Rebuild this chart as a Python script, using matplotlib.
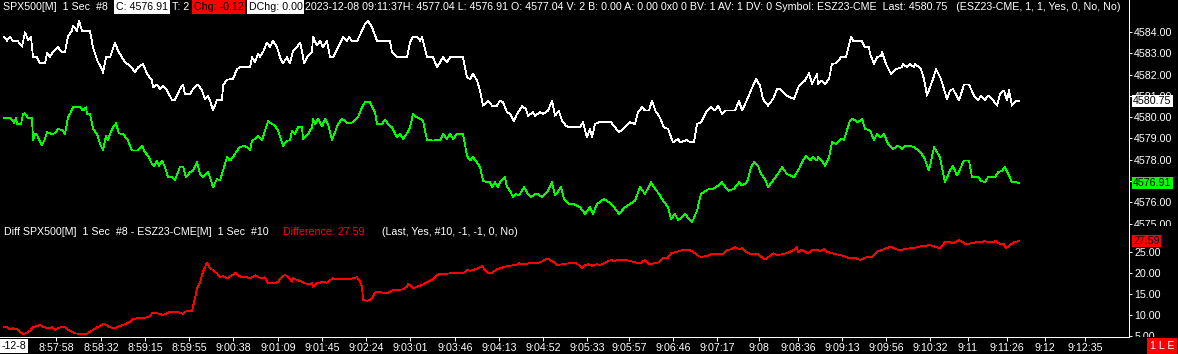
import matplotlib
matplotlib.use("Agg")
import matplotlib.pyplot as plt
from matplotlib.transforms import Bbox

plt.rcParams['font.family'] = ['Liberation Sans', 'DejaVu Sans']

# ---- data (bar index, price) ----
white_bar = [4, 7, 10, 13, 18, 22, 25, 28, 31, 33, 37, 40, 45, 47, 50, 53, 58, 62, 65, 68,
             72, 73, 77, 79, 82, 90, 93, 98, 102, 103, 106, 110, 115, 118, 122, 125, 130, 135, 138, 143,
             147, 152, 153, 157, 160, 163, 167, 172, 175, 180, 183, 185, 190, 193, 198, 202, 205, 208, 210, 213,
             217, 222, 223, 227, 233, 237, 240, 250, 252, 255, 258, 260, 263, 267, 270, 273, 277, 280, 283, 287,
             290, 293, 297, 300, 302, 304, 308, 312, 313, 317, 320, 323, 327, 330, 333, 338, 343, 347, 349, 352,
             357, 362, 365, 368, 372, 377, 390, 392, 397, 407, 410, 413, 417, 420, 422, 427, 433, 437, 440, 443,
             447, 450, 463, 467, 470, 473, 477, 480, 483, 488, 492, 497, 500,
             503, 507, 510, 514, 517, 522, 526, 528, 533, 535, 540, 543, 548, 552, 555, 559, 562, 566, 569, 580,
             583, 587, 590, 592, 595, 599, 611, 619, 625, 630, 635, 638, 642, 645, 649, 652, 656, 659, 664, 668,
             673, 678, 680, 687, 690, 694, 697, 701, 706, 711, 715, 718, 722, 725, 735, 739, 742, 747, 753, 756,
             760, 763, 768, 773, 777, 780, 787, 794, 799, 805, 809, 812, 817, 818, 822, 825, 829, 832, 836, 841,
             846, 851, 853, 862, 865, 869, 870, 874, 877, 881, 882, 886, 891, 896, 902, 903, 907, 910, 914, 915,
             921, 924, 927, 933, 936, 941, 947, 950, 953, 959, 964, 969, 974, 978, 981, 985, 988, 993, 997, 1000,
             1004, 1007, 1009, 1012, 1016, 1019]
white_px = [4583.78, 4583.59, 4583.78, 4583.56, 4583.56, 4583.31, 4583.98, 4583.62, 4583.78, 4582.81,
            4582.81, 4582.53, 4582.53, 4583.00, 4582.84, 4583.05, 4583.28, 4583.05, 4583.05, 4583.78,
            4584.06, 4584.30, 4584.06, 4584.53, 4584.06, 4584.03, 4583.28, 4582.58, 4582.26, 4582.06,
            4582.81, 4582.81, 4583.51, 4583.12, 4582.81, 4582.58, 4582.42, 4582.11, 4582.34, 4582.50,
            4582.03, 4581.72, 4581.40, 4581.53, 4581.32, 4581.48, 4581.25, 4580.81, 4580.81, 4581.32,
            4581.53, 4581.09, 4581.06, 4581.32, 4581.53, 4581.25, 4580.85, 4581.01, 4580.78, 4580.31,
            4580.81, 4580.81, 4581.48, 4581.76, 4581.79, 4582.26, 4582.34, 4582.34, 4582.81, 4582.58,
            4582.97, 4582.84, 4583.05, 4583.51, 4583.28, 4583.59, 4583.28, 4582.81, 4582.53, 4582.81,
            4582.53, 4583.12, 4583.28, 4583.51, 4583.12, 4582.53, 4582.89, 4583.05, 4583.78, 4583.36,
            4583.59, 4583.28, 4583.59, 4582.81, 4582.81, 4583.28, 4583.75, 4583.56, 4583.78, 4583.56,
            4583.56, 4584.06, 4584.38, 4584.53, 4584.22, 4583.59, 4583.56, 4583.05, 4582.81, 4582.81,
            4583.51, 4583.78, 4583.78, 4583.59, 4583.75, 4582.81, 4582.81, 4582.34, 4582.58, 4582.81,
            4582.58, 4582.81, 4582.81, 4581.87, 4581.79, 4582.03, 4581.72, 4581.25, 4580.54, 4580.78,
            4580.54, 4580.54, 4580.78,
            4580.70, 4580.23, 4580.15, 4579.81, 4580.15, 4580.51, 4580.38, 4580.07, 4580.23, 4580.07,
            4580.23, 4580.15, 4580.31, 4580.78, 4580.07, 4580.28, 4579.84, 4579.60, 4579.52, 4579.52,
            4579.76, 4579.05, 4579.45, 4579.05, 4579.68, 4579.76, 4579.76, 4579.29, 4579.52, 4579.76,
            4579.68, 4580.23, 4580.46, 4580.31, 4580.31, 4580.78, 4580.23, 4580.07, 4579.52, 4579.45,
            4578.82, 4578.98, 4578.82, 4578.93, 4578.82, 4578.82, 4579.68, 4579.76, 4580.23, 4580.46,
            4580.31, 4580.54, 4580.15, 4580.31, 4580.31, 4580.78, 4580.31, 4580.81, 4581.48, 4581.79,
            4581.48, 4580.85, 4580.54, 4580.85, 4581.32, 4581.32, 4581.01, 4580.85, 4581.48, 4581.72,
            4582.06, 4581.56, 4582.03, 4581.56, 4581.72, 4581.56, 4581.79, 4582.50, 4582.53, 4582.81,
            4582.81, 4583.78, 4583.59, 4583.56, 4583.28, 4583.28, 4582.97, 4582.50, 4582.81, 4582.89,
            4583.05, 4582.50, 4582.03, 4582.26, 4582.34, 4582.50, 4582.34, 4582.50, 4582.34, 4582.50,
            4582.26, 4581.79, 4581.01, 4581.79, 4582.26, 4581.79, 4580.85, 4581.25, 4581.32, 4580.78,
            4581.53, 4581.53, 4581.01, 4580.78, 4581.01, 4580.81, 4581.01, 4580.81, 4580.54, 4581.09,
            4581.25, 4580.78, 4581.28, 4580.54, 4580.78, 4580.75]

green_bar = [4, 10, 13, 14, 16, 17, 21, 23, 25, 28, 32, 33, 35, 37, 39, 42, 45, 47, 52, 55,
             58, 62, 65, 68, 70, 73, 80, 83, 86, 87, 90, 93, 97, 100, 103, 106, 108, 110, 113, 116,
             119, 123, 128, 132, 138, 142, 145, 148, 152, 154, 157, 159, 162, 165, 168, 172, 175, 178, 180, 183,
             186, 190, 193, 197, 200, 203, 208, 210, 213, 217, 220, 223, 227, 230, 233, 237, 240, 245, 250, 252,
             255, 258, 262, 265, 268, 272, 275, 278, 283, 287, 290, 292, 295, 298, 302, 303, 308, 312, 313, 315,
             318, 322, 325, 328, 332, 335, 338, 342, 348, 353, 358, 362, 365, 370, 375, 377, 382, 385, 388, 392,
             397, 400, 403, 407, 410, 413, 417, 420, 423, 427, 433, 437, 440, 443, 447, 450, 453, 457, 463, 467,
             470, 473, 477, 480, 483, 487, 490, 492, 495, 498,
             500, 505, 507, 510, 513, 516, 519, 524, 528, 531, 535, 538, 542, 545, 548, 552, 555, 561, 564, 569,
             574, 580, 585, 590, 593, 597, 604, 609, 614, 619, 625, 630, 635, 640, 645, 651, 654, 659, 663, 668,
             671, 675, 678, 682, 685, 689, 692, 697, 701, 706, 709, 713, 716, 722, 728, 734, 739, 742, 747, 751,
             754, 758, 761, 765, 768, 773, 779, 782, 787, 794, 799, 803, 806, 810, 813, 817, 818, 822, 825, 829,
             832, 836, 841, 844, 850, 853, 858, 862, 865, 870, 874, 877, 881, 884, 888, 893, 898, 902, 905, 910,
             914, 919, 924, 929, 934, 940, 945, 950, 953, 957, 964, 969, 972, 978, 981, 985, 988, 995, 998, 1002,
             1005, 1009, 1012, 1016, 1019]
green_px = [4579.95, 4579.95, 4579.84, 4579.71, 4579.95, 4579.68, 4579.68, 4580.15, 4580.18, 4579.95,
            4579.95, 4578.93, 4579.21, 4579.18, 4578.93, 4578.69, 4578.98, 4579.29, 4579.21, 4579.24,
            4579.45, 4579.40, 4579.21, 4579.99, 4580.15, 4580.46, 4580.46, 4580.31, 4580.46, 4580.15,
            4580.15, 4579.45, 4579.21, 4578.74, 4578.46, 4579.13, 4578.90, 4579.21, 4579.52, 4579.71,
            4579.24, 4579.21, 4578.90, 4578.43, 4578.43, 4578.66, 4578.35, 4578.19, 4577.80, 4577.68,
            4577.96, 4577.72, 4577.96, 4577.65, 4577.18, 4577.18, 4577.05, 4577.41, 4577.68, 4577.68,
            4577.18, 4577.41, 4577.49, 4577.88, 4577.33, 4577.18, 4577.41, 4577.18, 4576.71, 4577.10,
            4577.02, 4577.49, 4578.12, 4577.96, 4578.12, 4578.43, 4578.59, 4578.66, 4578.46, 4578.90,
            4578.98, 4579.13, 4578.90, 4579.37, 4579.81, 4579.68, 4579.60, 4579.37, 4578.66, 4578.90,
            4578.90, 4579.37, 4579.21, 4579.52, 4579.52, 4578.98, 4579.21, 4579.52, 4579.92, 4579.68,
            4579.92, 4579.56, 4579.92, 4579.68, 4578.93, 4579.29, 4579.68, 4579.92, 4579.71, 4579.76,
            4579.99, 4580.46, 4580.70, 4580.70, 4580.23, 4579.68, 4579.68, 4579.87, 4579.68, 4579.52,
            4579.05, 4579.21, 4578.98, 4579.24, 4579.52, 4580.15, 4579.99, 4579.92, 4579.84, 4578.93,
            4578.90, 4578.93, 4578.90, 4579.21, 4578.98, 4579.21, 4578.98, 4579.21, 4579.21, 4578.19,
            4577.96, 4578.12, 4577.88, 4577.65, 4577.02, 4576.94, 4576.94, 4576.71, 4576.94, 4576.71,
            4576.94, 4577.18, 4576.71, 4576.55, 4576.24, 4576.39, 4576.32, 4576.71, 4576.39, 4576.24,
            4576.39, 4576.39, 4576.24, 4576.39, 4576.55, 4576.94, 4576.32, 4576.71, 4576.16, 4575.92,
            4575.92, 4575.77, 4575.46, 4575.77, 4575.46, 4575.92, 4576.16, 4576.00, 4575.77, 4575.46,
            4575.77, 4575.92, 4576.08, 4576.71, 4576.39, 4576.94, 4576.71, 4576.39, 4576.08, 4575.77,
            4575.22, 4575.46, 4575.17, 4575.30, 4575.46, 4575.22, 4575.06, 4575.61, 4576.39, 4576.55,
            4576.63, 4576.63, 4576.71, 4576.94, 4576.55, 4576.63, 4576.94, 4576.79, 4576.94, 4577.65,
            4577.88, 4577.72, 4577.33, 4577.10, 4576.71, 4577.02, 4577.41, 4577.65, 4577.33, 4577.18,
            4577.57, 4577.96, 4578.19, 4577.96, 4578.12, 4577.96, 4578.12, 4577.96, 4577.72, 4578.12,
            4578.82, 4578.74, 4578.98, 4578.93, 4579.84, 4579.92, 4579.76, 4579.92, 4579.45, 4579.37,
            4578.93, 4579.21, 4579.05, 4579.21, 4578.74, 4578.51, 4578.66, 4578.51, 4578.66, 4578.66,
            4578.59, 4578.43, 4578.12, 4577.49, 4578.59, 4578.12, 4576.94, 4577.49, 4577.72, 4577.26,
            4577.96, 4577.96, 4577.18, 4577.18, 4577.02, 4576.94, 4577.18, 4577.18, 4577.41, 4577.49,
            4577.65, 4577.26, 4576.94, 4576.94, 4576.91]

diff_bar = [4, 7, 10, 13, 17, 20, 23, 27, 30, 33, 37, 40, 43, 48, 52, 55, 58, 62, 65, 68,
            72, 75, 80, 87, 90, 93, 97, 100, 103, 107, 110, 115, 118, 123, 127, 130, 133, 137, 140, 147,
            150, 152, 157, 160, 163, 167, 170, 175, 180, 183, 187, 192, 193, 195, 197, 200, 203, 206, 207, 210,
            213, 217, 220, 223, 227, 230, 233, 236, 238, 242, 247, 250, 253, 256, 258, 262, 265, 268, 272, 275,
            278, 282, 285, 288, 292, 293, 297, 302, 305, 308, 312, 313, 317, 320, 323, 327, 330, 333, 337, 343,
            348, 353, 357, 360, 362, 363, 367, 370, 372, 375, 378, 383, 387, 390, 393, 398, 403, 407, 408, 412,
            413, 417, 422, 425, 428, 433, 437, 440, 445, 450, 457, 463, 467, 470, 473, 478, 482, 485, 488, 492,
            497, 500,
            505, 510, 516, 519, 524, 529, 535, 540, 543, 547, 550, 554, 557, 562, 569, 576, 580, 582, 585, 588,
            592, 597, 600, 606, 611, 614, 619, 625, 630, 635, 640, 645, 649, 654, 659, 663, 668, 671, 677, 682,
            689, 692, 697, 701, 708, 711, 722, 727, 732, 735, 739, 742, 746, 751, 758, 761, 765, 770, 773, 777,
            782, 787, 792, 796, 797, 798, 801, 805, 808, 812, 817, 820, 824, 827, 832, 837, 843, 848, 855, 860,
            865, 872, 877, 881, 886, 891, 895, 900, 905, 910, 915, 921, 926, 929, 934, 940, 945, 950, 953, 959,
            962, 966, 971, 976, 981, 985, 988, 992, 996, 1000, 1004, 1006, 1009, 1014, 1019]
diff_val = [7.06, 7.06, 6.59, 6.83, 6.59, 6.03, 5.40, 5.79, 6.27, 7.06,
            7.38, 7.62, 7.22, 6.83, 7.06, 6.43, 6.83, 7.22, 7.06, 6.43,
            6.03, 5.63, 5.48, 5.48, 6.03, 6.43, 7.06, 7.38, 7.86, 7.62,
            7.06, 6.83, 7.22, 7.62, 8.02, 8.41, 8.97, 9.21, 9.21, 9.44,
            9.76, 10.40, 10.40, 10.24, 10.00, 10.40, 10.79, 10.79, 10.56, 10.24,
            11.03, 11.03, 11.98, 13.97, 16.35, 17.70, 20.32, 21.90, 22.46, 21.11,
            20.71, 19.92, 18.97, 19.29, 18.73, 19.29, 19.52, 20.08, 19.52, 18.97,
            18.97, 18.73, 19.13, 19.44, 18.97, 18.73, 18.97, 17.54, 17.70, 17.54,
            17.94, 19.13, 19.52, 19.13, 17.94, 18.73, 18.33, 17.94, 17.54, 17.38,
            17.54, 16.75, 17.70, 17.70, 17.94, 17.70, 18.33, 18.73, 18.49, 18.49,
            18.49, 18.73, 18.97, 17.94, 16.75, 13.57, 13.41, 13.57, 13.97, 15.32,
            15.56, 15.32, 15.16, 15.56, 15.95, 15.95, 16.11, 16.75, 17.38, 16.75,
            16.35, 16.75, 17.14, 17.54, 17.94, 18.49, 19.52, 19.76, 19.76, 19.92,
            19.92, 19.92, 20.71, 20.56, 20.71, 21.11, 21.67, 20.71, 19.92, 20.08,
            20.87, 21.11,
            21.51, 21.75, 21.90, 22.30, 22.06, 22.30, 22.30, 22.54, 22.86, 23.49,
            23.10, 22.54, 21.90, 22.06, 22.30, 22.30, 21.75, 21.11, 21.90, 22.06,
            21.75, 22.06, 21.90, 22.54, 23.10, 22.86, 23.17, 23.10, 22.86, 22.54,
            22.30, 23.10, 22.06, 22.30, 22.54, 23.49, 23.65, 24.68, 25.08, 25.40,
            25.48, 25.24, 24.29, 23.81, 24.13, 24.44, 24.44, 25.40, 25.71, 26.19,
            25.71, 25.87, 25.08, 24.44, 24.44, 23.89, 23.17, 24.13, 24.68, 24.29,
            24.44, 24.76, 25.24, 25.87, 26.19, 24.92, 25.48, 25.08, 24.68, 25.48,
            25.56, 25.08, 25.71, 25.08, 24.68, 24.44, 24.13, 23.65, 23.65, 23.10,
            23.65, 23.89, 25.08, 25.40, 25.87, 26.27, 25.71, 25.40, 25.71, 25.87,
            26.03, 26.35, 26.51, 26.67, 26.35, 25.87, 27.30, 27.30, 27.06, 27.78,
            27.46, 26.83, 27.06, 27.30, 27.30, 27.62, 27.30, 27.30, 27.62, 26.83,
            26.83, 25.87, 26.51, 27.30, 27.59]

tick_bar = [56, 101, 145, 189, 233, 278, 322, 366, 410, 455, 499, 543, 587,
            629, 673, 717, 759, 798, 842, 886, 930, 968, 1007, 1045, 1085]
tick_lbl = ['8:57:58', '8:58:32', '8:59:15', '8:59:55', '9:00:38', '9:01:09', '9:01:45',
            '9:02:24', '9:03:01', '9:03:46', '9:04:13', '9:04:52', '9:05:33', '9:05:57',
            '9:06:46', '9:07:17', '9:08', '9:08:36', '9:09:13', '9:09:56', '9:10:32',
            '9:11', '9:11:26', '9:12', '9:12:35']

price_ticks = [4575, 4576, 4577, 4578, 4579, 4580, 4581, 4582, 4583, 4584]
diff_ticks = [5, 10, 15, 20, 25]

W, H = 1178, 354
FS = 7.7
LW = 0.55
fig = plt.figure(figsize=(W / 100, H / 100), dpi=100, facecolor='black')

def fx(px):
    return px / W

def fy(py):
    return 1 - py / H

ax1 = fig.add_axes([0, fy(226), fx(1129), 226 / H], facecolor='black')
ax2 = fig.add_axes([0, fy(337), fx(1129), 111 / H], facecolor='black')

ax1.plot(white_bar, white_px, color='white', lw=LW, antialiased=False)
ax1.plot(green_bar, green_px, color='#00ff00', lw=LW, antialiased=False)
ax2.plot(diff_bar, diff_val, color='#ff0000', lw=LW, antialiased=False)

ax1.set_xlim(0, 1129)
ax2.set_xlim(0, 1129)
ax1.set_ylim(4574.89, 4585.50)
ax2.set_ylim(4.76, 31.19)

for ax in (ax1, ax2):
    for s in ax.spines.values():
        s.set_visible(False)
    ax.spines['right'].set_visible(True)
    ax.spines['right'].set_color('white')
    ax.spines['right'].set_linewidth(0.72)
    ax.yaxis.tick_right()
    ax.tick_params(axis='y', colors='white', labelsize=FS, length=2.5, width=0.7, pad=1.2)

ax2.spines['bottom'].set_visible(True)
ax2.spines['bottom'].set_color('white')
ax2.spines['bottom'].set_linewidth(0.72)

ax1.set_xticks([])
ax1.set_yticks(price_ticks)
ax1.set_yticklabels([f'{v:.2f}' for v in price_ticks])
ax2.set_yticks(diff_ticks)
ax2.set_yticklabels([f'{v:.2f}' for v in diff_ticks])
ax2.set_xticks(tick_bar)
ax2.set_xticklabels(tick_lbl)
ax2.tick_params(axis='x', colors='white', labelsize=FS, length=3, width=0.7, pad=1.0)

# clip right-axis labels to their own panel, like the original
clip1 = Bbox.from_extents(0, H - 226, W, H)
clip2 = Bbox.from_extents(0, H - 337, W, H - 226)
for t in ax1.yaxis.get_major_ticks():
    t.label2.set_clip_box(clip1)
    t.label2.set_clip_on(True)
for t in ax2.yaxis.get_major_ticks():
    t.label2.set_clip_box(clip2)
    t.label2.set_clip_on(True)

# last-value boxes on the price scale
def last_box(ax, val, txt, bg):
    ax.annotate(txt, xy=(1, val), xycoords=('axes fraction', 'data'),
                xytext=(3, 0), textcoords='offset points', ha='left', va='center',
                fontsize=FS, color='black', annotation_clip=False, zorder=10,
                bbox=dict(boxstyle='square,pad=0.1', fc=bg, ec='none'))

last_box(ax1, white_px[-1], f'{white_px[-1]:.2f}', 'white')
last_box(ax1, green_px[-1], f'{green_px[-1]:.2f}', '#00ff00')
last_box(ax2, diff_val[-1], f'{diff_val[-1]:.2f}', '#ff0000')

# header line
hy = fy(7)
header = [
    (3, 'SPX500[M]  1 Sec  #8', 'white', None),
    (116, 'C: 4576.91', 'black', 'white'),
    (172, 'T: 2', 'white', None),
    (194, 'Chg: -0.12', 'black', '#ff0000'),
    (249, 'DChg: 0.00', 'black', 'white'),
    (305, '2023-12-08 09:11:37H: 4577.04 L: 4576.91 O: 4577.04 V: 2 B: 0.00 A: 0.00 '
          '0x0 0 BV: 1 AV: 1 DV: 0 Symbol: ESZ23-CME  Last: 4580.75   '
          '(ESZ23-CME, 1, 1, Yes, 0, No, No)', 'white', None),
]
for x, txt, col, bg in header:
    kw = {}
    if bg:
        kw['bbox'] = dict(boxstyle='square,pad=0.15', fc=bg, ec='none')
    fig.text(fx(x), hy, txt, color=col, fontsize=FS, ha='left', va='center', **kw)

# study title line
dy = fy(232)
fig.text(fx(4), dy, 'Diff SPX500[M]  1 Sec  #8 - ESZ23-CME[M]  1 Sec  #10',
         color='white', fontsize=FS, ha='left', va='center')
fig.text(fx(283), dy, 'Difference: 27.59', color='#ff0000', fontsize=FS, ha='left', va='center')
fig.text(fx(382), dy, '(Last, Yes, #10, -1, -1, 0, No)', color='white', fontsize=FS,
         ha='left', va='center')

# date at the start of the time scale and the trade flag box
fig.text(fx(2), fy(346), '-12-8', color='black', fontsize=FS, ha='left', va='center',
         bbox=dict(boxstyle='square,pad=0.15', fc='white', ec='none'))
fig.text(fx(1162), fy(346), '1 L E', color='white', fontsize=FS, ha='center', va='center',
         bbox=dict(boxstyle='square,pad=0.3', fc='#ff0000', ec='none'))

fig.savefig('out.png', dpi=100, facecolor='black')
